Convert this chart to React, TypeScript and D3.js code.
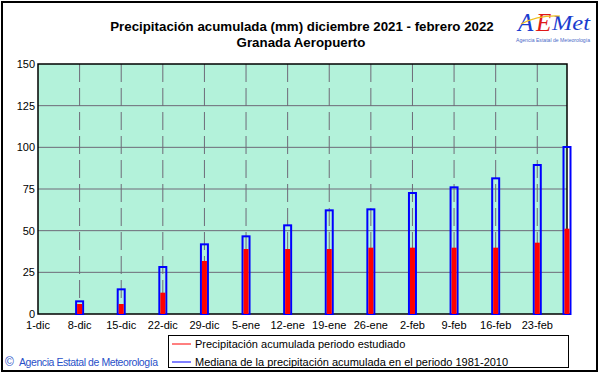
import React from 'react'
import * as d3 from 'd3'

// fechas de las barras (acumulado semanal) y valores
const fechasBarras = [
  '2021-12-08', '2021-12-15', '2021-12-22', '2021-12-29', '2022-01-05',
  '2022-01-12', '2022-01-19', '2022-01-26', '2022-02-02', '2022-02-09',
  '2022-02-16', '2022-02-23', '2022-02-28',
]
const precipPeriodo = [6, 6, 12.8, 31.8, 39, 39, 39, 39.8, 39.8, 39.8, 39.8, 42.8, 51.2]
const medianaPeriodo = [7.6, 14.8, 28.2, 41.8, 46.6, 53.2, 62.2, 62.8, 72.6, 76, 81.4, 89.4, 100.2]

const fechasTicks = [
  '2021-12-01', '2021-12-08', '2021-12-15', '2021-12-22', '2021-12-29',
  '2022-01-05', '2022-01-12', '2022-01-19', '2022-01-26', '2022-02-02',
  '2022-02-09', '2022-02-16', '2022-02-23',
]
const etiquetasTicks = [
  '1-dic', '8-dic', '15-dic', '22-dic', '29-dic', '5-ene', '12-ene',
  '19-ene', '26-ene', '2-feb', '9-feb', '16-feb', '23-feb',
]
const yTicks = [0, 25, 50, 75, 100, 125, 150]

const leyenda = [
  {texto: 'Precipitación acumulada periodo estudiado', color: '#ff0000'},
  {texto: 'Mediana de la precipitación acumulada en el periodo 1981-2010', color: '#0000ff'},
]

const W = 601
const H = 374
const fuente = '"Liberation Sans", Arial, sans-serif'

const App = () => {
  const left = 38
  const right = 567
  const top = 64
  const bottom = 314

  const x = d3
    .scaleUtc()
    .domain([new Date('2021-12-01'), new Date('2022-02-28')])
    .range([left, right])
  const y = d3.scaleLinear().domain([0, 150]).range([bottom, top])

  const barras = fechasBarras.map((f, i) => ({
    cx: x(new Date(f)),
    precip: precipPeriodo[i],
    mediana: medianaPeriodo[i],
  }))

  return (
    <svg
      width={W}
      height={H}
      style={{position: 'absolute', left: 0, top: 0, background: '#fff'}}
      fontFamily={fuente}
    >
      {/* marco exterior */}
      <rect x={2} y={2} width={595} height={369} fill="none" stroke="#000" strokeWidth={2} />

      {/* titulo */}
      <text x={302} y={31} textAnchor="middle" fontSize={13.3} fontWeight="bold" fill="#000">
        Precipitación acumulada (mm) diciembre 2021 - febrero 2022
      </text>
      <text x={301} y={47} textAnchor="middle" fontSize={13.3} fontWeight="bold" fill="#000">
        Granada Aeropuerto
      </text>

      {/* logo */}
      <g fontFamily='"Liberation Serif", serif' fontStyle="italic">
        <text x={518} y={31} fontSize={25} fill="#1a3ccf">A</text>
        <text x={536} y={31} fontSize={25} fill="#e01818">E</text>
        <text x={552} y={30} fontSize={22} fill="#1a3ccf" textLength={38} lengthAdjust="spacingAndGlyphs">
          Met
        </text>
        <path d="M521 24 Q538 15 560 16" fill="none" stroke="#f0c020" strokeWidth={1.2} />
      </g>
      <text
        x={516}
        y={42}
        fontSize={5}
        fill="#4a6ac8"
        textLength={74}
        lengthAdjust="spacingAndGlyphs"
      >
        Agencia Estatal de Meteorología
      </text>

      {/* area de trazado */}
      <rect x={left} y={top} width={right - left} height={bottom - top} fill="#b3f2da" />

      {yTicks.slice(1, -1).map((t) => (
        <line key={t} x1={left} x2={right} y1={y(t)} y2={y(t)} stroke="#6e6a78" strokeWidth={1} />
      ))}
      {fechasTicks.slice(1).map((f) => (
        <line
          key={f}
          x1={x(new Date(f))}
          x2={x(new Date(f))}
          y1={top}
          y2={bottom}
          stroke="#6e6a78"
          strokeWidth={1}
          strokeDasharray="18,6"
        />
      ))}

      <rect x={left} y={top} width={right - left} height={bottom - top} fill="none" stroke="#000" strokeWidth={1.5} />

      {/* barras */}
      {barras.map((b, i) => (
        <g key={i}>
          <rect
            x={b.cx - 3.5}
            y={y(b.mediana)}
            width={7}
            height={y(0) - y(b.mediana)}
            fill="none"
            stroke="#0000ff"
            strokeWidth={2}
          />
          <rect
            x={b.cx - 2.5}
            y={y(b.precip)}
            width={5}
            height={y(0) - y(b.precip)}
            fill="#ff0000"
          />
        </g>
      ))}

      {/* eje y */}
      {yTicks.map((t) => (
        <text key={t} x={35} y={y(t) + 4} textAnchor="end" fontSize={11} fill="#000">
          {t}
        </text>
      ))}

      {/* eje x */}
      {fechasTicks.map((f, i) => (
        <text key={f} x={x(new Date(f))} y={329} textAnchor="middle" fontSize={11} fill="#000">
          {etiquetasTicks[i]}
        </text>
      ))}

      {/* leyenda */}
      <rect x={168.5} y={335.5} width={400} height={32} fill="#fff" stroke="#000" strokeWidth={1} />
      {leyenda.map((l, i) => (
        <g key={l.texto}>
          <line x1={172} x2={191} y1={344 + i * 18} y2={344 + i * 18} stroke={l.color} strokeWidth={1} />
          <text x={195} y={348 + i * 18} fontSize={11} fill="#000">
            {l.texto}
          </text>
        </g>
      ))}

      {/* copyright */}
      <text x={5} y={366} fontSize={12} fill="#2850c8">©</text>
      <text x={19} y={366} fontSize={10.5} fill="#2850c8" textLength={139}>
        Agencia Estatal de Meteorología
      </text>
    </svg>
  )
}

export default App
